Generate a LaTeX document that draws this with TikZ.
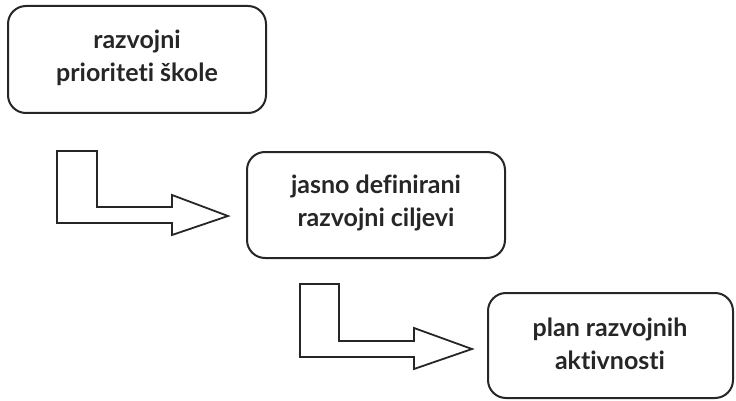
\documentclass[tikz,border=0pt]{standalone}
\usepackage{fontspec}
\setmainfont{Lato}[Ligatures={NoCommon,NoContextual}]
\begin{document}
\begin{tikzpicture}[x=1pt,y=-1pt,
  box/.style={draw=black!85,line width=2pt,rounded corners=18pt},
  lbl/.style={font=\bfseries\fontsize{25}{33}\selectfont,text=black!85,align=center},
  arr/.style={draw=black!85,line width=1.8pt,fill=white}]
\useasboundingbox (0,0) rectangle (736,401);
\draw[box] (8,6) rectangle (266,113);
\node[lbl] (b1) at (137,58) {razvojni\\prioriteti škole};
\draw[box] (247,152) rectangle (505,258);
\node[lbl] (b2) at (376,203) {jasno definirani\\razvojni ciljevi};
\draw[box] (488,293) rectangle (733,398);
\node[lbl] (b3) at (610,344) {plan razvojnih\\aktivnosti};
\coordinate (t1) at (228,216);
\draw[arr] (57,151) -- (97,151) -- (97,207) -- (172,207) -- (172,195) -- (t1) -- (172,235) -- (172,223) -- (57,223) -- cycle;
\coordinate (t2) at (472,349);
\draw[arr] (300,284) -- (339,284) -- (339,341) -- (414,341) -- (414,328) -- (t2) -- (414,369) -- (414,357) -- (300,357) -- cycle;
\end{tikzpicture}
\end{document}
